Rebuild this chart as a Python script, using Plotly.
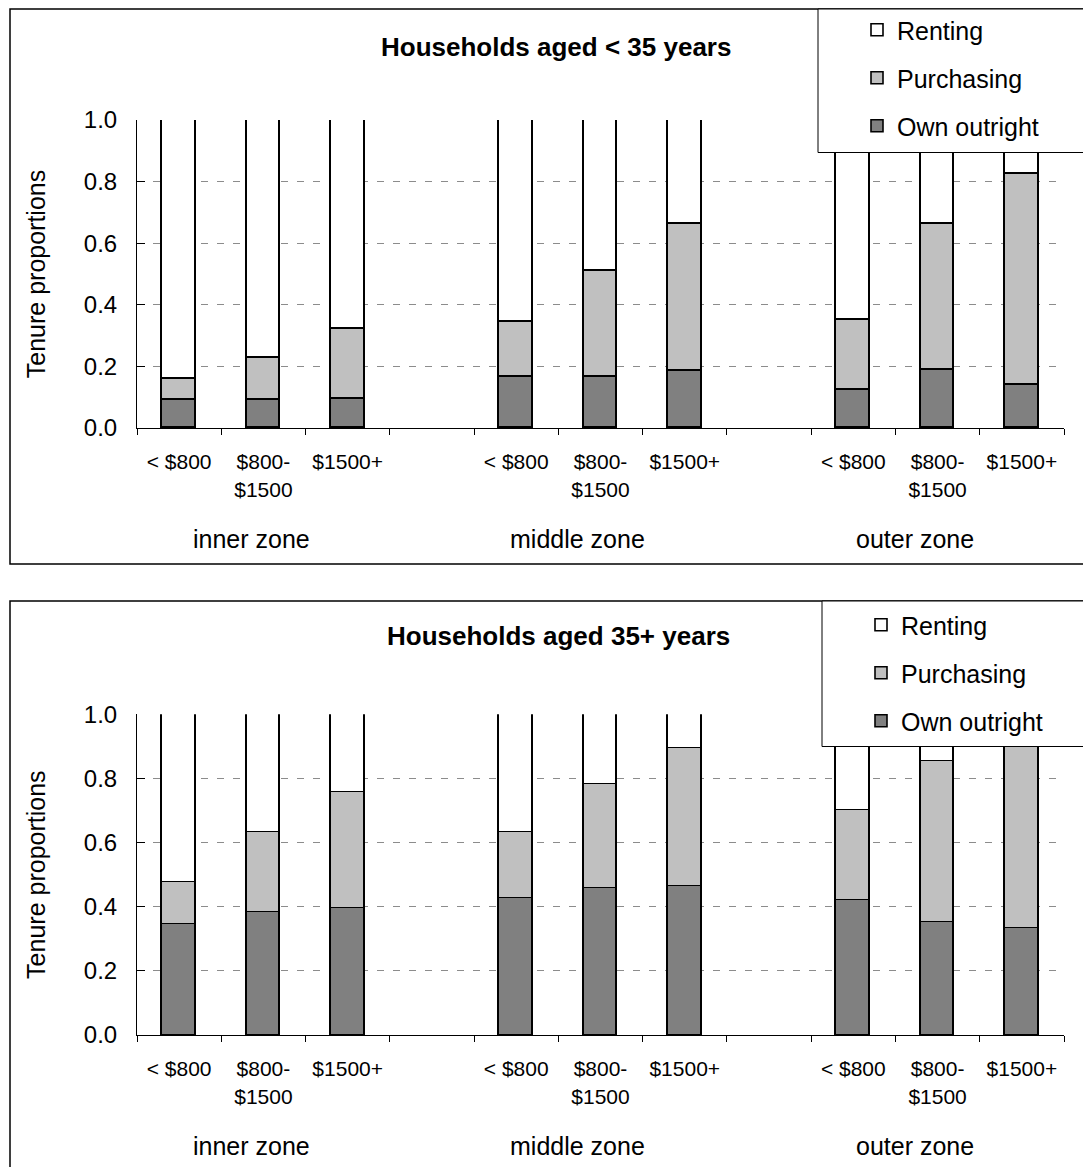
import plotly.graph_objects as go

# ---------------- data ----------------
zones = ["inner zone", "middle zone", "outer zone"]
income_labels = ["< $800", "$800-<br>$1500", "$1500+"]
series_names = ["Own outright", "Purchasing", "Renting"]
series_colors = ["#808080", "#c0c0c0", "#ffffff"]
legend_ranks = [3, 2, 1]

# Households aged < 35 years (per zone: <$800, $800-1500, $1500+)
young_own = [0.090, 0.090, 0.095, 0.167, 0.167, 0.186, 0.122, 0.188, 0.141]
young_purch = [0.070, 0.138, 0.228, 0.178, 0.344, 0.475, 0.228, 0.474, 0.683]
young_rent = [0.840, 0.772, 0.677, 0.655, 0.489, 0.339, 0.650, 0.338, 0.176]

# Households aged 35+ years
old_own = [0.345, 0.383, 0.395, 0.426, 0.457, 0.464, 0.420, 0.351, 0.333]
old_purch = [0.131, 0.249, 0.362, 0.206, 0.325, 0.430, 0.280, 0.503, 0.617]
old_rent = [0.524, 0.368, 0.243, 0.368, 0.218, 0.106, 0.300, 0.146, 0.050]

titles = ["Households aged < 35 years", "Households aged 35+ years"]
y_ticks = [0.0, 0.2, 0.4, 0.6, 0.8, 1.0]

# ---------------- layout helpers ----------------
W, H = 1091, 1167
OFF = 8  # page body margin
FONT = "Liberation Sans, Arial, sans-serif"


def px(x):
    return (x - OFF) / W


def py(y):
    return 1 - (y - OFF) / H


# slot positions: 3 bars per zone, one empty slot between zones
slot = []
for g in range(len(zones)):
    for i in range(len(income_labels)):
        slot.append(g * (len(income_labels) + 1) + i)
ticktext = income_labels * len(zones)
n_slots = len(zones) * (len(income_labels) + 1) - 1
boundaries = [k - 0.5 for k in range(n_slots + 1)]

fig = go.Figure()

panels = [
    dict(data=[young_own, young_purch, young_rent], xa="x", ya="y", legend="legend",
         ytop=120, ybot=428, ptop=9, pbot=564, title_y=47, title_x=556,
         leg=(818, 9, 1100, 152.5), leg_pos=(857, 7)),
    dict(data=[old_own, old_purch, old_rent], xa="x2", ya="y2", legend="legend2",
         ytop=714.3, ybot=1035, ptop=601, pbot=1190, title_y=636, title_x=558,
         leg=(822, 601, 1100, 746.5), leg_pos=(861, 602)),
]

for p in panels:
    for name, color, vals, rank in zip(series_names, series_colors, p["data"], legend_ranks):
        fig.add_trace(go.Bar(
            x=slot, y=vals, name=name, width=0.4,
            marker=dict(color=color, line=dict(color="black", width=1.6)),
            xaxis=p["xa"], yaxis=p["ya"], legend=p["legend"],
            legendgroup=p["legend"] + name, legendrank=rank,
        ))

shapes = []
annotations = []
layout_axes = {}
for k, p in enumerate(panels):
    suffix = "" if k == 0 else str(k + 1)
    layout_axes["xaxis" + suffix] = dict(
        domain=[px(137), px(1064)], range=[-0.5, n_slots - 0.5],
        tickvals=slot, ticktext=ticktext, ticks="",
        minor=dict(tickvals=boundaries, ticks="outside", ticklen=6,
                   tickcolor="black", showgrid=False),
        showline=True, linecolor="black", linewidth=1,
        showgrid=False, zeroline=False, fixedrange=True,
        tickfont=dict(family=FONT, size=21, color="black"),
        ticklabelstandoff=15,
        anchor="y" + suffix,
    )
    layout_axes["yaxis" + suffix] = dict(
        domain=[py(p["ybot"]), py(p["ytop"])], range=[0, 1],
        tickvals=y_ticks, tickformat=".1f", ticks="inside", ticklen=8,
        tickcolor="black",
        showline=True, linecolor="black", linewidth=1,
        showgrid=True, gridcolor="#8c8c8c", gridwidth=1, griddash="7px,9px",
        zeroline=False, fixedrange=True,
        tickfont=dict(family=FONT, size=24, color="black"),
        ticklabelstandoff=14,
        title=dict(text="Tenure proportions", standoff=31,
                   font=dict(family=FONT, size=25, color="black")),
        anchor="x" + suffix,
    )
    # panel border
    shapes.append(dict(type="rect", xref="paper", yref="paper", layer="below",
                       x0=px(10), x1=px(1110), y0=py(p["pbot"]), y1=py(p["ptop"]),
                       line=dict(color="black", width=1.5), fillcolor="rgba(0,0,0,0)"))
    # legend box
    lx0, ly0, lx1, ly1 = p["leg"]
    shapes.append(dict(type="rect", xref="paper", yref="paper", layer="above",
                       x0=px(lx0), x1=px(lx1), y0=py(ly1), y1=py(ly0),
                       line=dict(color="black", width=1), fillcolor="white"))
    # title
    annotations.append(dict(text="<b>" + titles[k] + "</b>", xref="paper", yref="paper",
                            x=px(p["title_x"]), y=py(p["title_y"]),
                            xanchor="center", yanchor="middle", showarrow=False,
                            font=dict(family=FONT, size=26, color="black")))
    # zone labels
    shifts = [-12, -23, -23]
    for g, z in enumerate(zones):
        xs = slot[g * 3:(g + 1) * 3]
        annotations.append(dict(text=z, xref="x" + suffix, yref="paper",
                                x=sum(xs) / len(xs), xshift=shifts[g],
                                y=py(p["ybot"] + 111), xanchor="center", yanchor="middle",
                                showarrow=False,
                                font=dict(family=FONT, size=25, color="black")))

legend_common = dict(bgcolor="rgba(0,0,0,0)", borderwidth=0,
                     font=dict(family=FONT, size=25, color="black"),
                     traceorder="grouped", tracegroupgap=12.5,
                     xanchor="left", yanchor="top", itemclick=False)

fig.update_layout(
    width=W, height=H, autosize=False,
    margin=dict(l=0, r=0, t=0, b=0, autoexpand=False),
    paper_bgcolor="white", plot_bgcolor="white",
    barmode="stack", bargap=0,
    showlegend=True,
    legend=dict(x=px(panels[0]["leg_pos"][0]), y=py(panels[0]["leg_pos"][1]), **legend_common),
    legend2=dict(x=px(panels[1]["leg_pos"][0]), y=py(panels[1]["leg_pos"][1]), **legend_common),
    shapes=shapes, annotations=annotations,
    font=dict(family=FONT, color="black"),
    **layout_axes,
)

fig.write_html("out.html")
